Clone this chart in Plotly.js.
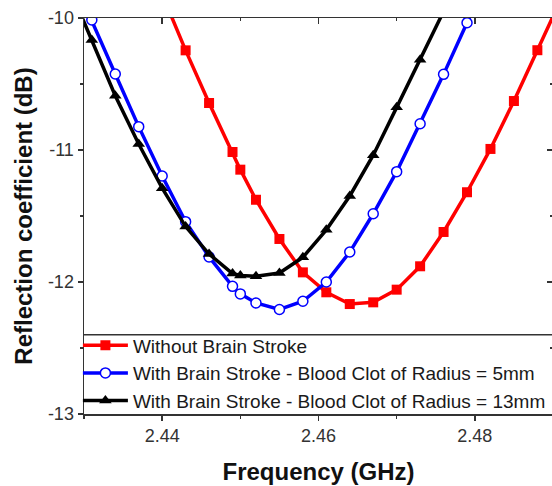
<!DOCTYPE html>
<html>
<head>
<meta charset="utf-8">
<script src="https://cdn.plot.ly/plotly-3.0.1.min.js"></script>
<style>
html, body { margin: 0; padding: 0; overflow: hidden; background: #fff; }
#chart { width: 553px; height: 486px; }
</style>
</head>
<body>
<div id="chart"></div>
<script>
// Frequency (GHz) and reflection coefficient (dB)
const freqRed = [2.440, 2.443, 2.446, 2.449, 2.450, 2.452, 2.455, 2.458, 2.461, 2.464, 2.467, 2.470, 2.473, 2.476, 2.479, 2.482, 2.485, 2.488, 2.491];
const s11Red  = [-9.82, -10.245, -10.644, -11.015, -11.149, -11.377, -11.674, -11.927, -12.078, -12.167, -12.154, -12.058, -11.881, -11.621, -11.320, -10.992, -10.629, -10.244, -9.86];

const freqBlue = [2.428, 2.431, 2.434, 2.437, 2.440, 2.443, 2.446, 2.449, 2.450, 2.452, 2.455, 2.458, 2.461, 2.464, 2.467, 2.470, 2.473, 2.476, 2.479, 2.482];
const s11Blue  = [-9.62, -10.015, -10.424, -10.823, -11.197, -11.543, -11.81, -12.033, -12.09, -12.159, -12.208, -12.146, -12.000, -11.773, -11.483, -11.164, -10.801, -10.427, -10.036, -9.65];

const freqBlack = [2.428, 2.431, 2.434, 2.437, 2.440, 2.443, 2.446, 2.449, 2.450, 2.452, 2.455, 2.458, 2.461, 2.464, 2.467, 2.470, 2.473, 2.476];
const s11Black  = [-9.75, -10.167, -10.589, -10.955, -11.289, -11.580, -11.788, -11.936, -11.951, -11.957, -11.932, -11.813, -11.605, -11.348, -11.039, -10.677, -10.317, -9.95];

const seriesNames = [
  'Without Brain Stroke',
  'With Brain Stroke - Blood Clot of Radius = 5mm',
  'With Brain Stroke - Blood Clot of Radius = 13mm'
];
const xTickVals = [2.44, 2.46, 2.48];
const yTickVals = [-10, -11, -12, -13];
const xRange = [2.43, 2.49];
const yRange = [-13, -10];
const legendTopY = -12.40;

const F = 'Arial, "Liberation Sans", sans-serif';

const traces = [
  {
    x: freqRed, y: s11Red, name: seriesNames[0], type: 'scatter', mode: 'lines+markers',
    line: {color: '#ff0000', width: 3.5},
    marker: {symbol: 'square', size: 10, color: '#ff0000'}
  },
  {
    x: freqBlue, y: s11Blue, name: seriesNames[1], type: 'scatter', mode: 'lines+markers',
    line: {color: '#0000ff', width: 3.5},
    marker: {symbol: 'circle', size: 10, color: '#ffffff', line: {color: '#0000ff', width: 1.5}}
  },
  {
    x: freqBlack, y: s11Black, name: seriesNames[2], type: 'scatter', mode: 'lines+markers',
    line: {color: '#000000', width: 3.5},
    marker: {symbol: 'triangle-up', size: 11, color: '#000000'}
  },
  // helpers so the top and right tick axes get drawn
  {x: [null], y: [null], xaxis: 'x2', yaxis: 'y', showlegend: false, hoverinfo: 'skip', mode: 'markers'},
  {x: [null], y: [null], xaxis: 'x', yaxis: 'y2', showlegend: false, hoverinfo: 'skip', mode: 'markers'}
];

const layout = {
  width: 553, height: 486,
  margin: {l: 84, r: 0, t: 18, b: 72},
  paper_bgcolor: '#ffffff', plot_bgcolor: '#ffffff',
  showlegend: true,
  font: {family: F, color: '#222'},
  xaxis: {
    range: xRange, tickvals: xTickVals, ticktext: xTickVals.map(v => v.toFixed(2)),
    ticks: 'outside', ticklen: 5, tickwidth: 1.5, tickcolor: '#333',
    minor: {dtick: 0.01, tick0: 2.43, ticks: 'outside', ticklen: 3, tickwidth: 1.5, tickcolor: '#333', showgrid: false},
    showline: true, linewidth: 1.5, linecolor: '#333', mirror: true,
    showgrid: false, zeroline: false, fixedrange: true,
    tickfont: {family: F, size: 18, color: '#333'},
    title: {text: 'Frequency (GHz)', font: {family: F, size: 24, color: '#111', weight: 'bold'}, standoff: 18},
    automargin: false
  },
  xaxis2: {
    overlaying: 'x', anchor: 'y', side: 'top', range: xRange, tickvals: xTickVals,
    ticks: 'inside', ticklen: 6, tickwidth: 1.5, tickcolor: '#333', showticklabels: false,
    minor: {dtick: 0.01, tick0: 2.43, ticks: 'inside', ticklen: 3, tickwidth: 1.5, tickcolor: '#333', showgrid: false},
    showline: false, showgrid: false, zeroline: false, fixedrange: true
  },
  yaxis: {
    range: yRange, tickvals: yTickVals, ticktext: yTickVals.map(v => String(v)),
    ticks: 'outside', ticklen: 5, tickwidth: 1.5, tickcolor: '#333',
    minor: {dtick: 0.5, tick0: -13, ticks: 'outside', ticklen: 3, tickwidth: 1.5, tickcolor: '#333', showgrid: false},
    showline: true, linewidth: 1.5, linecolor: '#333', mirror: true,
    showgrid: false, zeroline: false, fixedrange: true,
    tickfont: {family: F, size: 18, color: '#333'},
    title: {text: 'Reflection coefficient (dB)', font: {family: F, size: 24, color: '#111', weight: 'bold'}, standoff: 8},
    automargin: false
  },
  yaxis2: {
    overlaying: 'y', anchor: 'x', side: 'right', range: yRange, tickvals: yTickVals,
    ticks: 'inside', ticklen: 6, tickwidth: 1.5, tickcolor: '#333', showticklabels: false,
    minor: {dtick: 0.5, tick0: -13, ticks: 'inside', ticklen: 3, tickwidth: 1.5, tickcolor: '#333', showgrid: false},
    showline: false, showgrid: false, zeroline: false, fixedrange: true
  },
  legend: {
    x: -0.013, y: -0.016, xanchor: 'left', yanchor: 'bottom',
    bgcolor: 'rgba(255,255,255,0)', borderwidth: 0,
    font: {family: F, size: 19, color: '#1a1a1a'},
    traceorder: 'normal', itemwidth: 45
  },
  shapes: [
    {type: 'line', xref: 'paper', yref: 'y', x0: 0, x1: 1, y0: legendTopY, y1: legendTopY,
     line: {color: '#333', width: 1.5}}
  ]
};

Plotly.newPlot('chart', traces, layout, {displayModeBar: false, staticPlot: true});
</script>
</body>
</html>
